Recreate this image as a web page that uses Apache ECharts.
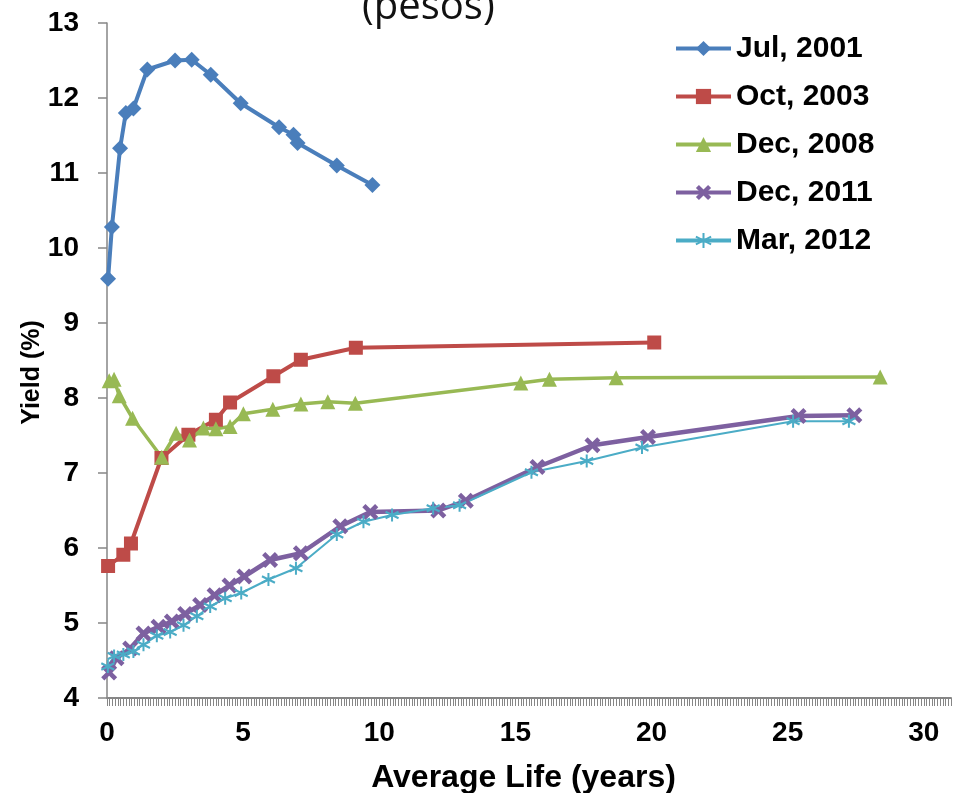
<!DOCTYPE html>
<html>
<head>
<meta charset="utf-8">
<script src="https://cdn.jsdelivr.net/npm/echarts@6/dist/echarts.min.js"></script>
<style>html,body{margin:0;padding:0;background:#fff}#c{width:958px;height:793px}</style>
</head>
<body>
<div id="c"></div>
<script>
// ---- data (x = average life in years, y = yield %) ----
const seriesNames = ['Jul, 2001', 'Oct, 2003', 'Dec, 2008', 'Dec, 2011', 'Mar, 2012'];
const jul2001 = [[0.04,9.59],[0.18,10.28],[0.48,11.33],[0.69,11.80],[0.97,11.86],[1.48,12.38],[2.5,12.50],[3.11,12.51],[3.81,12.31],[4.91,11.93],[6.32,11.61],[6.85,11.51],[7.0,11.40],[8.44,11.10],[9.75,10.84]];
const oct2003 = [[0.04,5.76],[0.6,5.91],[0.88,6.06],[2.0,7.20],[2.99,7.51],[4.0,7.71],[4.52,7.94],[6.11,8.29],[7.12,8.51],[9.14,8.67],[20.1,8.74]];
const dec2008 = [[0.08,8.23],[0.26,8.25],[0.45,8.03],[0.94,7.73],[2.01,7.21],[2.54,7.53],[3.03,7.44],[3.54,7.60],[4.0,7.59],[4.52,7.62],[5.01,7.79],[6.09,7.85],[7.12,7.92],[8.11,7.95],[9.12,7.93],[15.2,8.20],[16.25,8.25],[18.7,8.27],[28.4,8.28]];
const dec2011 = [[0.08,4.34],[0.35,4.53],[0.85,4.66],[1.34,4.86],[1.89,4.95],[2.38,5.02],[2.87,5.12],[3.42,5.24],[3.95,5.37],[4.5,5.50],[5.04,5.62],[5.99,5.84],[7.12,5.93],[8.57,6.29],[9.67,6.48],[12.17,6.50],[13.18,6.63],[15.81,7.08],[17.83,7.37],[19.87,7.48],[25.4,7.76],[27.45,7.77]];
const mar2012 = [[0.03,4.42],[0.26,4.56],[0.6,4.58],[0.97,4.62],[1.34,4.71],[1.83,4.83],[2.32,4.88],[2.81,4.97],[3.3,5.09],[3.79,5.22],[4.34,5.33],[4.93,5.40],[5.93,5.58],[6.94,5.73],[8.44,6.18],[9.42,6.35],[10.47,6.44],[11.98,6.53],[12.95,6.57],[15.59,7.01],[17.62,7.16],[19.65,7.34],[25.2,7.69],[27.25,7.69]];
const xLabelValues = [0, 5, 10, 15, 20, 25, 30];
const yLabelValues = [4, 5, 6, 7, 8, 9, 10, 11, 12, 13];

const FONT = '"Liberation Sans", Arial, sans-serif';
const AX = '#868686';
const colors = ['#4A7EBB', '#BE4B48', '#98B954', '#7D60A0', '#4BACC6'];
const xSym = 'path://M2,0 L5,3 L8,0 L10,2 L7,5 L10,8 L8,10 L5,7 L2,10 L0,8 L3,5 L0,2 Z';
const starSym = 'path://M5,0 L5,10 M0.7,2.5 L9.3,7.5 M0.7,7.5 L9.3,2.5';

const chart = echarts.init(document.getElementById('c'), null, {renderer: 'canvas'});
const mk = (name, data, color, symbol, size, lw, extraItem) => ({
  name, type: 'line', data, color,
  symbol, symbolSize: size, showSymbol: true,
  lineStyle: {width: lw, color},
  itemStyle: Object.assign({color}, extraItem || {}),
  emphasis: {disabled: true},
  animation: false, clip: false, z: 3
});
chart.setOption({
  animation: false,
  graphic: [{
    type: 'text', left: 362, top: -12,
    style: {text: '(pesos)', font: '40px "Open Sans", sans-serif', fill: '#111'}
  }],
  legend: {
    orient: 'vertical', left: 669, top: 28,
    itemWidth: 55, itemHeight: 19, itemGap: 17,
    lineStyle: {width: 4},
    textStyle: {fontFamily: FONT, fontWeight: 'bold', fontSize: 30, color: '#000', lineHeight: 31},
    data: seriesNames
  },
  grid: {left: 107, right: 7, top: 23, bottom: 95, containLabel: false, outerBoundsMode: 'none'},
  xAxis: [{
    type: 'value', min: 0, max: 31, interval: 5,
    axisLine: {show: true, lineStyle: {color: AX, width: 2}},
    axisTick: {show: false},
    splitLine: {show: false},
    axisLabel: {
      margin: 21, fontFamily: FONT, fontWeight: 'bold', fontSize: 28, color: '#000',
      formatter: v => xLabelValues.indexOf(v) >= 0 ? String(v) : ''
    },
    name: 'Average Life (years)', nameLocation: 'middle', nameGap: 64, nameMoveOverlap: false,
    nameTextStyle: {fontFamily: FONT, fontWeight: 'bold', fontSize: 32, color: '#000', padding: [0, 11, 0, 0]}
  }, {
    type: 'value', min: 0, max: 31, interval: 0.1, position: 'bottom',
    axisLine: {show: false},
    axisTick: {show: true, length: 8, lineStyle: {color: AX, width: 1}},
    axisLabel: {show: false},
    splitLine: {show: false}
  }],
  yAxis: {
    type: 'value', min: 4, max: 13, interval: 1,
    axisLine: {show: true, lineStyle: {color: AX, width: 1.5}},
    axisTick: {show: true, length: 9, lineStyle: {color: AX, width: 1.5}},
    splitLine: {show: false},
    axisLabel: {
      margin: 28, fontFamily: FONT, fontWeight: 'bold', fontSize: 28, color: '#000',
      formatter: v => yLabelValues.indexOf(v) >= 0 ? String(v) : ''
    },
    name: 'Yield (%)', nameLocation: 'middle', nameGap: 62, nameRotate: 90, nameMoveOverlap: false,
    nameTextStyle: {fontFamily: FONT, fontWeight: 'bold', fontSize: 25, color: '#000', padding: [0, 24, 0, 0]}
  },
  series: [
    mk(seriesNames[0], jul2001, colors[0], 'diamond', 16, 4),
    mk(seriesNames[1], oct2003, colors[1], 'rect', 14, 4),
    mk(seriesNames[2], dec2008, colors[2], 'triangle', 15, 3.5),
    mk(seriesNames[3], dec2011, colors[3], xSym, 16, 4.5),
    mk(seriesNames[4], mar2012, colors[4], starSym, 13, 2, {borderColor: colors[4], borderWidth: 2})
  ]
});
</script>
</body>
</html>
